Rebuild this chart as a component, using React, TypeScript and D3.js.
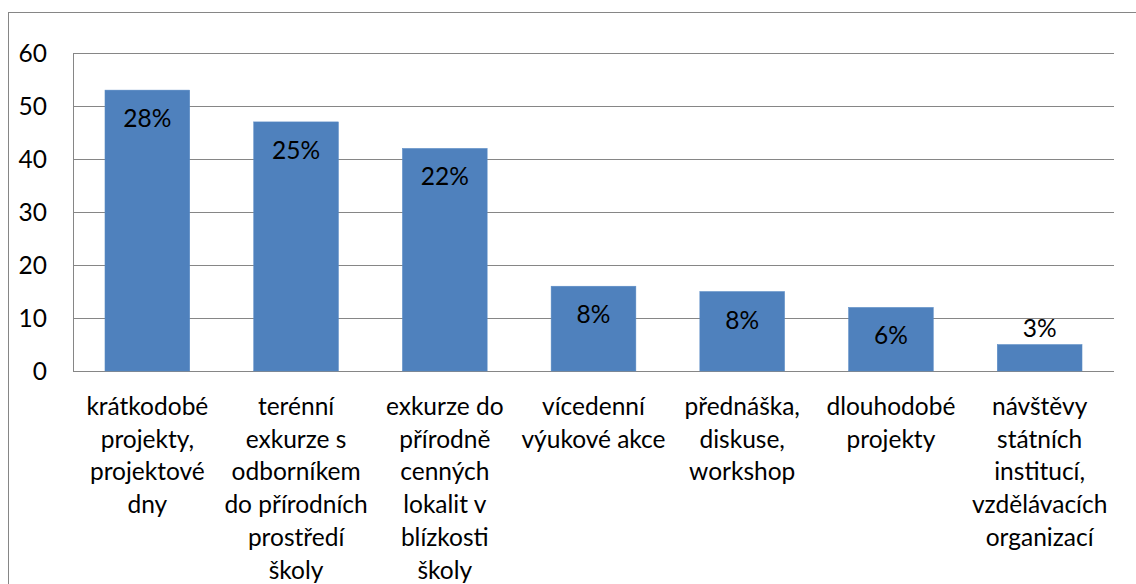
import * as d3 from 'd3'

const categories = [
  ['krátkodobé', 'projekty,', 'projektové', 'dny'],
  ['terénní', 'exkurze s', 'odborníkem', 'do přírodních', 'prostředí', 'školy'],
  ['exkurze do', 'přírodně', 'cenných', 'lokalit v', 'blízkosti', 'školy'],
  ['vícedenní', 'výukové akce'],
  ['přednáška,', 'diskuse,', 'workshop'],
  ['dlouhodobé', 'projekty'],
  ['návštěvy', 'státních', 'institucí,', 'vzdělávacích', 'organizací'],
]
const values = [53, 47, 42, 16, 15, 12, 5]
const percentLabels = ['28%', '25%', '22%', '8%', '8%', '6%', '3%']
const yTicks = [0, 10, 20, 30, 40, 50, 60]

const W = 1136
const H = 584
const plot = { left: 73, right: 1114, top: 53, bottom: 371 }
const font = 'Lato, "Noto Sans", sans-serif'
const fs = 24.5

export default function App() {
  const x = d3
    .scaleBand<number>()
    .domain(d3.range(values.length))
    .range([plot.left, plot.right])
    .paddingInner(0.43)
    .paddingOuter(0.215)
  const y = d3.scaleLinear().domain([0, 60]).range([plot.bottom, plot.top])

  return (
    <svg
      width={W}
      height={H}
      style={{ position: 'absolute', left: 0, top: 0, background: '#fff' }}
      fontFamily={font}
    >
      {/* chart frame */}
      <rect x={8.5} y={12.5} width={W + 20} height={H + 20} fill="none" stroke="#868686" strokeWidth={1} />

      {/* grid */}
      {yTicks.map(t => (
        <line key={t} x1={plot.left} x2={plot.right} y1={Math.round(y(t)) + 0.5} y2={Math.round(y(t)) + 0.5} stroke="#868686" strokeWidth={1} />
      ))}
      <line x1={plot.left + 0.5} x2={plot.left + 0.5} y1={plot.top} y2={plot.bottom + 0.5} stroke="#868686" />

      {/* y labels */}
      {yTicks.map(t => (
        <text key={t} x={47} y={y(t) + 8.5} textAnchor="end" fontSize={fs} fill="#000">
          {t}
        </text>
      ))}

      {/* bars */}
      {values.map((v, i) => (
        <rect
          key={i}
          x={x(i)}
          y={y(v)}
          width={x.bandwidth()}
          height={y(0) - y(v)}
          fill="#4F81BD"
          stroke="#5B8CC6"
          strokeWidth={0.5}
        />
      ))}

      {/* value labels */}
      {values.map((v, i) => {
        const h = y(0) - y(v)
        const yy = h > 40 ? y(v) + 37 : y(v) - 8
        return (
          <text key={i} x={x(i)! + x.bandwidth() / 2} y={yy} textAnchor="middle" fontSize={fs} fill="#000">
            {percentLabels[i]}
          </text>
        )
      })}

      {/* category labels */}
      {categories.map((lines, i) => (
        <text key={i} x={x(i)! + x.bandwidth() / 2} y={415} textAnchor="middle" fontSize={fs} fill="#000">
          {lines.map((l, j) => (
            <tspan key={j} x={x(i)! + x.bandwidth() / 2} y={415 + j * 32.7}>
              {l}
            </tspan>
          ))}
        </text>
      ))}
    </svg>
  )
}
